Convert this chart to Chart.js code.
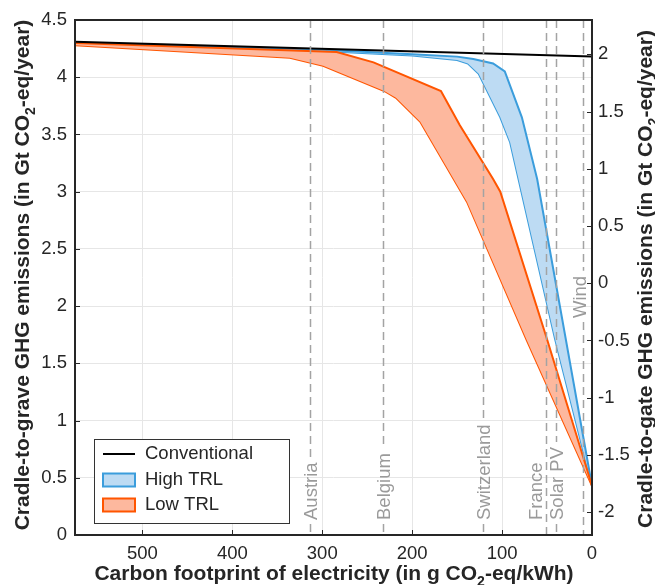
<!DOCTYPE html>
<html>
<head>
<meta charset="utf-8">
<script src="https://cdn.jsdelivr.net/npm/chart.js@4.4.1/dist/chart.umd.min.js"></script>
<style>
  html, body { margin: 0; padding: 0; background: #fff; }
  #wrap { width: 655px; height: 585px; }
</style>
</head>
<body>
<div id="wrap"><canvas id="chart"></canvas></div>
<script>
// tick labels
const xTicks = [0, 100, 200, 300, 400, 500];
const yTicks = [0, 0.5, 1, 1.5, 2, 2.5, 3, 3.5, 4, 4.5];
const y2Ticks = [-2, -1.5, -1, -0.5, 0, 0.5, 1, 1.5, 2];

// Conventional
const convX = [575, 0];
const convY = [4.31, 4.18];
// High TRL band (upper / lower edge)
const highUpX = [575, 300, 200, 150, 132, 110, 97, 78, 61, 0];
const highUpY = [4.30, 4.24, 4.20, 4.18, 4.16, 4.12, 4.05, 3.65, 3.11, 0.43];
const highLowX = [575, 300, 200, 150, 138, 126, 102, 91, 41, 0];
const highLowY = [4.29, 4.23, 4.19, 4.15, 4.12, 4.03, 3.65, 3.43, 1.71, 0.43];
// Low TRL band (upper / lower edge)
const lowUpX = [575, 284, 243, 168, 147, 110, 102, 50, 0];
const lowUpY = [4.30, 4.22, 4.13, 3.88, 3.58, 3.11, 3.00, 1.71, 0.43];
const lowLowX = [575, 336, 299, 231, 218, 191, 139, 73, 0];
const lowLowY = [4.28, 4.17, 4.10, 3.88, 3.82, 3.61, 2.91, 1.71, 0.43];

// electricity sources (vertical lines)
const siteX = [314, 233, 121, 51, 40, 10];
const siteNames = ['Austria', 'Belgium', 'Switzerland', 'France', 'Solar PV', 'Wind'];

const pts = (xs, ys) => xs.map((v, i) => ({x: v, y: ys[i]}));

const FONT = '"Liberation Sans", Arial, Helvetica, sans-serif';
const INK = '#262626';
const BLUE = '#3b9ddc', BLUE_FILL = '#bddbf3';
const ORANGE = '#ff5500', ORANGE_FILL = '#fdb89e';
const FS = 18.5;

// label placement for the vertical lines: end of text (y), x shift, line broken or not
const siteLabel = [
  {end: 520, dx: 0, gap: true},
  {end: 520, dx: 0, gap: true},
  {end: 520, dx: 0, gap: true},
  {end: 520, dx: -11, gap: false},
  {end: 520, dx: 0, gap: true},
  {end: 318, dx: -4, gap: true}
];

function subText(ctx, pre, sub, post, size) {
  ctx.font = 'bold ' + size + 'px ' + FONT;
  const w1 = ctx.measureText(pre).width, w3 = ctx.measureText(post).width;
  ctx.font = 'bold ' + Math.round(size * 0.68) + 'px ' + FONT;
  const w2 = ctx.measureText(sub).width;
  let x = -(w1 + w2 + w3) / 2;
  ctx.textAlign = 'left';
  ctx.textBaseline = 'alphabetic';
  ctx.font = 'bold ' + size + 'px ' + FONT;
  ctx.fillText(pre, x, 0);
  x += w1;
  ctx.font = 'bold ' + Math.round(size * 0.68) + 'px ' + FONT;
  ctx.fillText(sub, x, size * 0.28);
  x += w2;
  ctx.font = 'bold ' + size + 'px ' + FONT;
  ctx.fillText(post, x, 0);
}

const sites = {
  id: 'sites',
  afterDatasetsDraw(chart) {
    const {ctx, chartArea: a, scales: {x}} = chart;
    ctx.save();
    ctx.font = FS + 'px ' + FONT;
    siteX.forEach((v, i) => {
      const px = Math.round(x.getPixelForValue(v)) + 0.5;
      const lab = siteLabel[i];
      const w = ctx.measureText(siteNames[i]).width;
      ctx.strokeStyle = '#a3a3a3';
      ctx.lineWidth = 1.5;
      ctx.setLineDash([8, 5]);
      ctx.beginPath();
      if (lab.gap) {
        ctx.moveTo(px, a.top); ctx.lineTo(px, lab.end - w - 5);
        ctx.moveTo(px, lab.end + 4); ctx.lineTo(px, a.bottom);
      } else {
        ctx.moveTo(px, a.top); ctx.lineTo(px, a.bottom);
      }
      ctx.stroke();
      ctx.save();
      ctx.translate(px + lab.dx, lab.end);
      ctx.rotate(-Math.PI / 2);
      ctx.fillStyle = '#9a9a9a';
      ctx.textAlign = 'left';
      ctx.textBaseline = 'middle';
      ctx.fillText(siteNames[i], 0, 1);
      ctx.restore();
    });
    ctx.restore();
  },
  afterDraw(chart) {
    const {ctx, chartArea: a, scales} = chart;
    ctx.save();
    // box
    ctx.strokeStyle = INK;
    ctx.lineWidth = 2;
    ctx.strokeRect(a.left, a.top, a.right - a.left, a.bottom - a.top);
    // inward ticks
    ctx.lineWidth = 1;
    ctx.beginPath();
    xTicks.forEach(v => {
      const p = Math.round(scales.x.getPixelForValue(v)) + 0.5;
      ctx.moveTo(p, a.bottom); ctx.lineTo(p, a.bottom - 5);
    });
    yTicks.forEach(v => {
      const p = Math.round(scales.y.getPixelForValue(v)) + 0.5;
      ctx.moveTo(a.left, p); ctx.lineTo(a.left + 5, p);
    });
    y2Ticks.forEach(v => {
      const p = Math.round(scales.y2.getPixelForValue(v)) + 0.5;
      ctx.moveTo(a.right, p); ctx.lineTo(a.right - 5, p);
    });
    ctx.stroke();

    // axis titles
    ctx.fillStyle = INK;
    ctx.save();
    ctx.translate(334, 580);
    subText(ctx, 'Carbon footprint of electricity (in g CO', '2', '-eq/kWh)', 21);
    ctx.restore();
    ctx.save();
    ctx.translate(29, 275);
    ctx.rotate(-Math.PI / 2);
    subText(ctx, 'Cradle-to-grave GHG emissions (in Gt CO', '2', '-eq/year)', 21);
    ctx.restore();
    ctx.save();
    ctx.translate(652, 279);
    ctx.rotate(-Math.PI / 2);
    subText(ctx, 'Cradle-to-gate GHG emissions (in Gt CO', '2', '-eq/year)', 21);
    ctx.restore();

    // legend
    const lx = a.left + 19, ly = a.bottom - 96;
    ctx.fillStyle = '#fff';
    ctx.fillRect(lx, ly, 195, 84);
    ctx.strokeStyle = '#333';
    ctx.lineWidth = 1;
    ctx.strokeRect(lx + 0.5, ly + 0.5, 195, 84);
    ctx.font = FS + 'px ' + FONT;
    ctx.textAlign = 'left';
    ctx.textBaseline = 'middle';
    ctx.strokeStyle = '#000';
    ctx.lineWidth = 2;
    ctx.beginPath(); ctx.moveTo(lx + 9, ly + 15); ctx.lineTo(lx + 41, ly + 15); ctx.stroke();
    const patches = [[BLUE, BLUE_FILL, 'High TRL', ly + 41], [ORANGE, ORANGE_FILL, 'Low TRL', ly + 66]];
    ctx.fillStyle = INK;
    ctx.fillText('Conventional', lx + 51, ly + 15);
    patches.forEach(([c, f, t, yy]) => {
      ctx.fillStyle = f;
      ctx.fillRect(lx + 9, yy - 6.5, 32, 13);
      ctx.strokeStyle = c;
      ctx.lineWidth = 2;
      ctx.strokeRect(lx + 9, yy - 6.5, 32, 13);
      ctx.fillStyle = INK;
      ctx.fillText(t, lx + 51, yy);
    });
    ctx.restore();
  }
};

const tickFont = {family: FONT, size: FS};
const plain = v => String(v);

new Chart(document.getElementById('chart'), {
  type: 'line',
  data: {
    datasets: [
      {label: 'Conventional', data: pts(convX, convY), borderColor: '#000', borderWidth: 2, fill: false},
      {label: 'Low TRL', data: pts(lowUpX, lowUpY), borderColor: ORANGE, borderWidth: 2, backgroundColor: ORANGE_FILL, fill: '+1'},
      {label: 'Low TRL lower', data: pts(lowLowX, lowLowY), borderColor: ORANGE, borderWidth: 2, fill: false},
      {label: 'High TRL', data: pts(highUpX, highUpY), borderColor: BLUE, borderWidth: 2, backgroundColor: BLUE_FILL, fill: '+1'},
      {label: 'High TRL lower', data: pts(highLowX, highLowY), borderColor: BLUE, borderWidth: 2, fill: false}
    ]
  },
  options: {
    responsive: true,
    maintainAspectRatio: false,
    animation: false,
    layout: {padding: {top: 20, left: 0, right: 0, bottom: 0}},
    elements: {point: {radius: 0}, line: {tension: 0}},
    plugins: {legend: {display: false}, tooltip: {enabled: false}},
    scales: {
      x: {
        type: 'linear', reverse: true, min: 0, max: 575,
        afterBuildTicks: s => { s.ticks = xTicks.map(v => ({value: v})); },
        afterFit: s => { s.height = 50; },
        grid: {color: '#e6e6e6', drawTicks: false},
        border: {display: false},
        ticks: {font: tickFont, color: INK, padding: 8, maxRotation: 0, callback: plain}
      },
      y: {
        position: 'left', min: 0, max: 4.5,
        afterBuildTicks: s => { s.ticks = yTicks.map(v => ({value: v})); },
        afterFit: s => { s.width = 75; },
        grid: {color: '#e6e6e6', drawTicks: false},
        border: {display: false},
        ticks: {font: tickFont, color: INK, padding: 8, callback: plain}
      },
      y2: {
        position: 'right', min: -2.2, max: 2.3,
        afterBuildTicks: s => { s.ticks = y2Ticks.map(v => ({value: v})); },
        afterFit: s => { s.width = 63; },
        grid: {display: false, drawTicks: false},
        border: {display: false},
        ticks: {font: tickFont, color: INK, padding: 6, callback: plain}
      }
    }
  },
  plugins: [sites]
});
</script>
</body>
</html>
